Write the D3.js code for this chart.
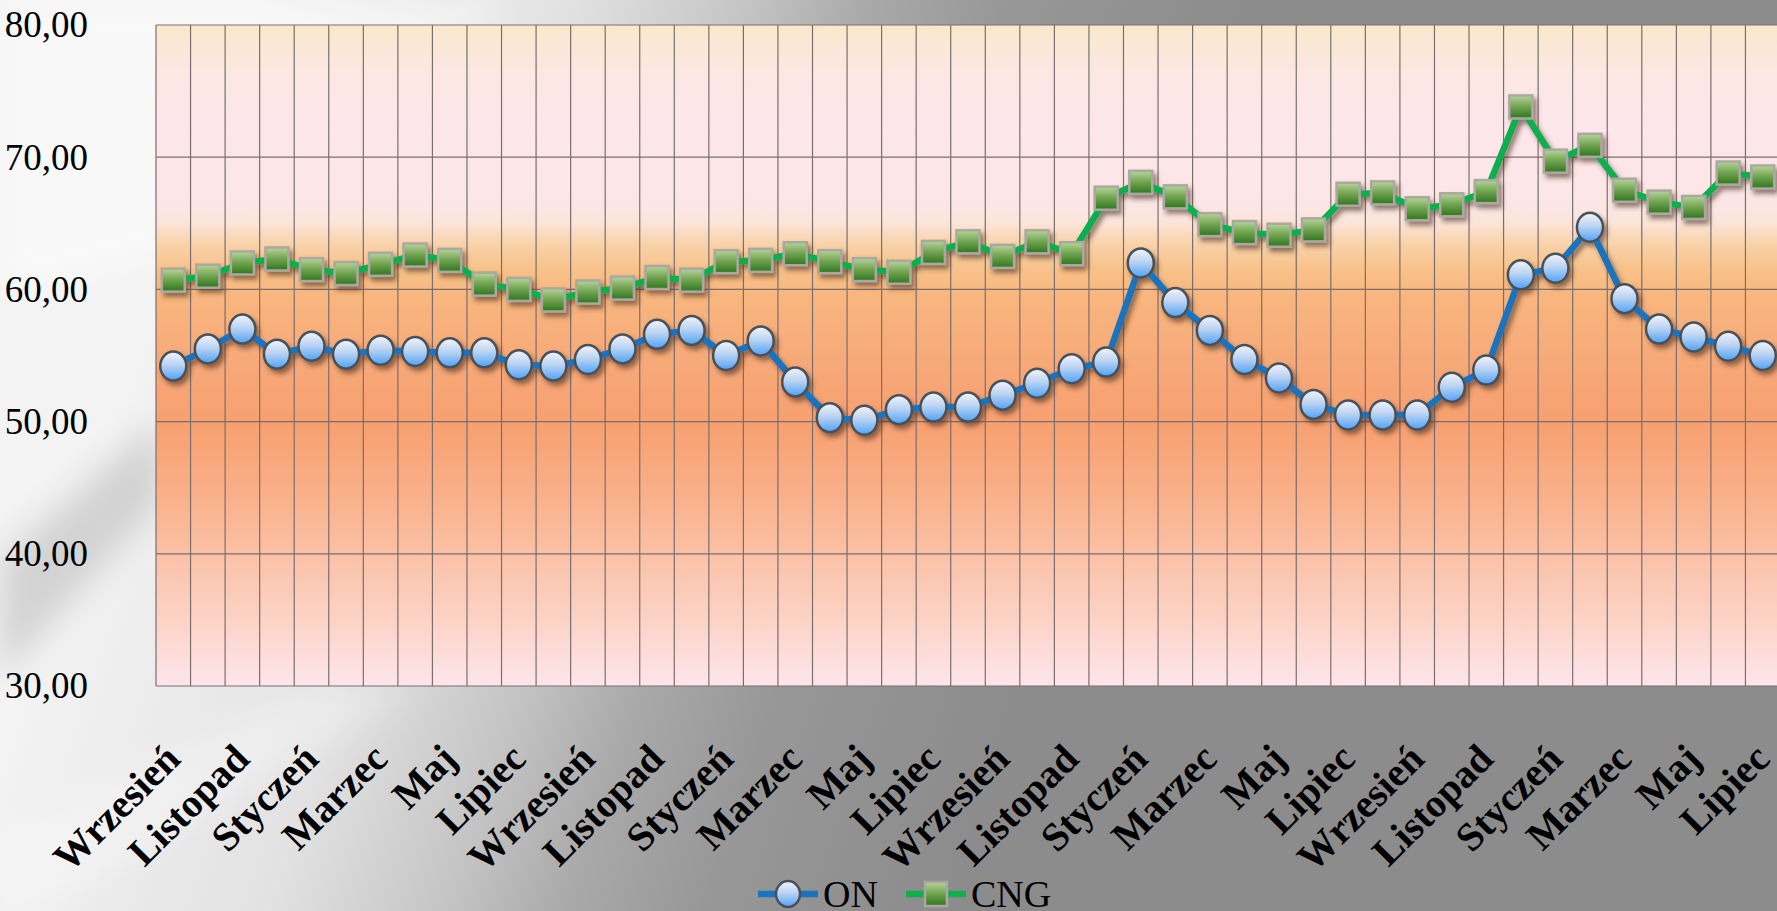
<!DOCTYPE html>
<html lang="pl">
<head>
<meta charset="UTF-8">
<title>ON / CNG</title>
<script src="https://d3js.org/d3.v7.min.js"></script>
<style>
  html, body { margin: 0; padding: 0; overflow: hidden; background: #8e8e8e; }
  svg { display: block; }
  text { font-family: "Liberation Serif", "Times New Roman", serif; fill: #000; }
</style>
</head>
<body>
<svg id="chart" width="1777" height="911"></svg>
<script>
// miesiące od września, etykieta co drugi miesiąc
const months = ["Wrzesień","Październik","Listopad","Grudzień","Styczeń","Luty","Marzec","Kwiecień","Maj","Czerwiec","Lipiec","Sierpień",
                "Wrzesień","Październik","Listopad","Grudzień","Styczeń","Luty","Marzec","Kwiecień","Maj","Czerwiec","Lipiec","Sierpień",
                "Wrzesień","Październik","Listopad","Grudzień","Styczeń","Luty","Marzec","Kwiecień","Maj","Czerwiec","Lipiec","Sierpień",
                "Wrzesień","Październik","Listopad","Grudzień","Styczeń","Luty","Marzec","Kwiecień","Maj","Czerwiec","Lipiec"]
const onValues = [54.2,55.5,57.0,55.1,55.7,55.1,55.4,55.3,55.2,55.2,54.3,54.2,
                  54.7,55.5,56.6,56.9,55.0,56.1,53.0,50.3,50.1,50.9,51.1,51.1,
                  52.0,52.9,54.0,54.5,62.0,59.0,56.9,54.7,53.3,51.3,50.5,50.5,
                  50.5,52.6,53.9,61.1,61.6,64.7,59.3,57.0,56.4,55.7,55.0]
const cngValues = [60.7,61.0,62.0,62.3,61.5,61.2,61.9,62.6,62.2,60.4,60.0,59.2,
                   59.8,60.1,60.9,60.7,62.1,62.2,62.7,62.1,61.5,61.3,62.8,63.6,
                   62.5,63.6,62.7,66.9,68.1,67.0,64.9,64.3,64.1,64.5,67.2,67.3,
                   66.1,66.4,67.4,73.8,69.7,70.9,67.5,66.6,66.2,68.8,68.5]
const yTicks = [30, 40, 50, 60, 70, 80]
const seriesNames = ["ON", "CNG"]

const svg = d3.select("#chart")
const W = 1777, H = 911
const plot = {left: 156, top: 25, bottom: 686, right: 1780}

const idx = d3.range(months.length)
const x = d3.scaleBand().domain(idx).range([plot.left, plot.right]).paddingInner(0).paddingOuter(0)
const y = d3.scaleLinear().domain([30, 80]).range([plot.bottom, plot.top])
const cx = i => x(i) + x.bandwidth() / 2
const plFormat = d3.formatLocale({decimal: ",", thousands: " ", grouping: [3], currency: ["", " zł"]}).format(".2f")

const defs = svg.append("defs")

// tło slajdu
const bg = defs.append("linearGradient").attr("id", "bg").attr("gradientUnits", "userSpaceOnUse")
  .attr("x1", 250).attr("y1", 0).attr("x2", 1150).attr("y2", 300)
;[[0, "#f3f3f3"], [0.32, "#e2e2e2"], [0.5, "#c4c4c4"], [0.62, "#a9a9a9"], [0.76, "#979797"], [1, "#8c8c8c"]]
  .forEach(s => bg.append("stop").attr("offset", s[0]).attr("stop-color", s[1]))

// tło wykresu
const pg = defs.append("linearGradient").attr("id", "plotbg").attr("x1", 0).attr("y1", 0).attr("x2", 0).attr("y2", 1)
;[[0, "#fae8cc"], [0.07, "#fce7e2"], [0.16, "#fde6ec"], [0.28, "#fce6e4"], [0.3, "#fbe4d8"],
  [0.33, "#f9d3ab"], [0.37, "#f8c289"], [0.41, "#f8b67e"], [0.52, "#f7a878"], [0.6, "#f7a070"],
  [0.7, "#f9ae86"], [0.8, "#fbc1a6"], [0.9, "#fcd3c6"], [1, "#fde5ec"]]
  .forEach(s => pg.append("stop").attr("offset", s[0]).attr("stop-color", s[1]))

const onGrad = defs.append("linearGradient").attr("id", "onFill").attr("x1", 0).attr("y1", 0).attr("x2", 0).attr("y2", 1)
;[[0, "#f2f5fb"], [0.45, "#bcd4f2"], [1, "#4ea2f8"]].forEach(s => onGrad.append("stop").attr("offset", s[0]).attr("stop-color", s[1]))
const cngGrad = defs.append("linearGradient").attr("id", "cngFill").attr("x1", 0).attr("y1", 0).attr("x2", 0).attr("y2", 1)
;[[0, "#b7d69c"], [0.5, "#6fa24e"], [1, "#2e7520"]].forEach(s => cngGrad.append("stop").attr("offset", s[0]).attr("stop-color", s[1]))

const shadow = defs.append("filter").attr("id", "shadow").attr("x", "-30%").attr("y", "-30%").attr("width", "160%").attr("height", "160%")
shadow.append("feDropShadow").attr("dx", 3).attr("dy", 4).attr("stdDeviation", 2.8)
  .attr("flood-color", "#4a2a1a").attr("flood-opacity", 0.6)
const blur = defs.append("filter").attr("id", "blur").append("feGaussianBlur").attr("stdDeviation", 16)

svg.append("rect").attr("width", W).attr("height", H).attr("fill", "url(#bg)")
// smugi światła po lewej
svg.append("polygon").attr("points", "0,560 160,420 160,500 0,680").attr("fill", "#8a8a8a").attr("opacity", 0.3).attr("filter", "url(#blur)")
svg.append("polygon").attr("points", "0,0 520,0 160,260 0,300").attr("fill", "#ffffff").attr("opacity", 0.45).attr("filter", "url(#blur)")
svg.append("polygon").attr("points", "0,840 300,690 420,690 40,911 0,911").attr("fill", "#ffffff").attr("opacity", 0.3).attr("filter", "url(#blur)")

// obszar wykresu
svg.append("rect").attr("x", plot.left).attr("y", plot.top)
  .attr("width", plot.right - plot.left).attr("height", plot.bottom - plot.top)
  .attr("fill", "url(#plotbg)")

const grid = svg.append("g").attr("stroke", "#7a6e6e").attr("stroke-width", 1.2)
grid.selectAll("line.v").data(d3.range(months.length + 1)).join("line").attr("class", "v")
  .attr("x1", i => plot.left + i * x.bandwidth()).attr("x2", i => plot.left + i * x.bandwidth())
  .attr("y1", plot.top).attr("y2", plot.bottom)
grid.selectAll("line.h").data(yTicks).join("line").attr("class", "h")
  .attr("x1", plot.left).attr("x2", plot.right).attr("y1", d => y(d)).attr("y2", d => y(d))

// oś Y
const yAxis = svg.append("g").attr("transform", `translate(${plot.left},0)`)
  .call(d3.axisLeft(y).tickValues(yTicks).tickFormat(plFormat).tickSize(0).tickPadding(68))
yAxis.select(".domain").remove()
yAxis.selectAll("text").attr("font-size", 37).attr("font-family", "Liberation Serif").attr("dy", "0.32em")

// oś X
const labelIdx = idx.filter(i => i % 2 === 0)
const xAxis = svg.append("g").attr("transform", `translate(0,${plot.bottom})`)
  .call(d3.axisBottom(x).tickValues(labelIdx).tickFormat(i => months[i]).tickSize(0))
xAxis.select(".domain").remove()
xAxis.selectAll("text").attr("font-size", 40).attr("font-weight", "bold").attr("font-family", "Liberation Serif")
  .attr("text-anchor", "end").attr("y", 0).attr("dy", 0)
  .attr("transform", "translate(9,75) rotate(-45)")

// serie
const line = d3.line().x((d, i) => cx(i)).y(d => y(d))
const series = svg.append("g").attr("filter", "url(#shadow)")
series.append("path").datum(onValues).attr("d", line).attr("fill", "none")
  .attr("stroke", "#1a73bd").attr("stroke-width", 6.5).attr("stroke-linejoin", "round")
series.selectAll("ellipse.on").data(onValues).join("ellipse").attr("class", "on")
  .attr("cx", (d, i) => cx(i)).attr("cy", d => y(d)).attr("rx", 13).attr("ry", 14.5)
  .attr("fill", "url(#onFill)").attr("stroke", "#4a5158").attr("stroke-width", 2.5)

series.append("path").datum(cngValues).attr("d", line).attr("fill", "none")
  .attr("stroke", "#11ae4e").attr("stroke-width", 6.5).attr("stroke-linejoin", "round")
series.selectAll("rect.cng").data(cngValues).join("rect").attr("class", "cng")
  .attr("x", (d, i) => cx(i) - 11.5).attr("y", d => y(d) - 11.5).attr("width", 23).attr("height", 23)
  .attr("fill", "url(#cngFill)").attr("stroke", "#aba99f").attr("stroke-width", 2.5)

// legenda
const legend = svg.append("g").attr("transform", "translate(758,894)")
const lx = d3.scaleOrdinal().domain(seriesNames).range([0, 148])
const li = legend.selectAll("g").data(seriesNames).join("g").attr("transform", d => `translate(${lx(d)},0)`)
li.append("line").attr("x1", 0).attr("x2", 60).attr("y1", 0).attr("y2", 0)
  .attr("stroke", d => d === "ON" ? "#1a73bd" : "#11ae4e").attr("stroke-width", 6.5)
li.filter(d => d === "ON").append("ellipse").attr("cx", 30).attr("cy", 0).attr("rx", 12).attr("ry", 13)
  .attr("fill", "url(#onFill)").attr("stroke", "#4a5158").attr("stroke-width", 2.5)
li.filter(d => d === "CNG").append("rect").attr("x", 19).attr("y", -12).attr("width", 22).attr("height", 24)
  .attr("fill", "url(#cngFill)").attr("stroke", "#aba99f").attr("stroke-width", 2.5)
li.append("text").attr("x", 65).attr("y", 13).attr("font-size", 38).text(d => d)
</script>
</body>
</html>
